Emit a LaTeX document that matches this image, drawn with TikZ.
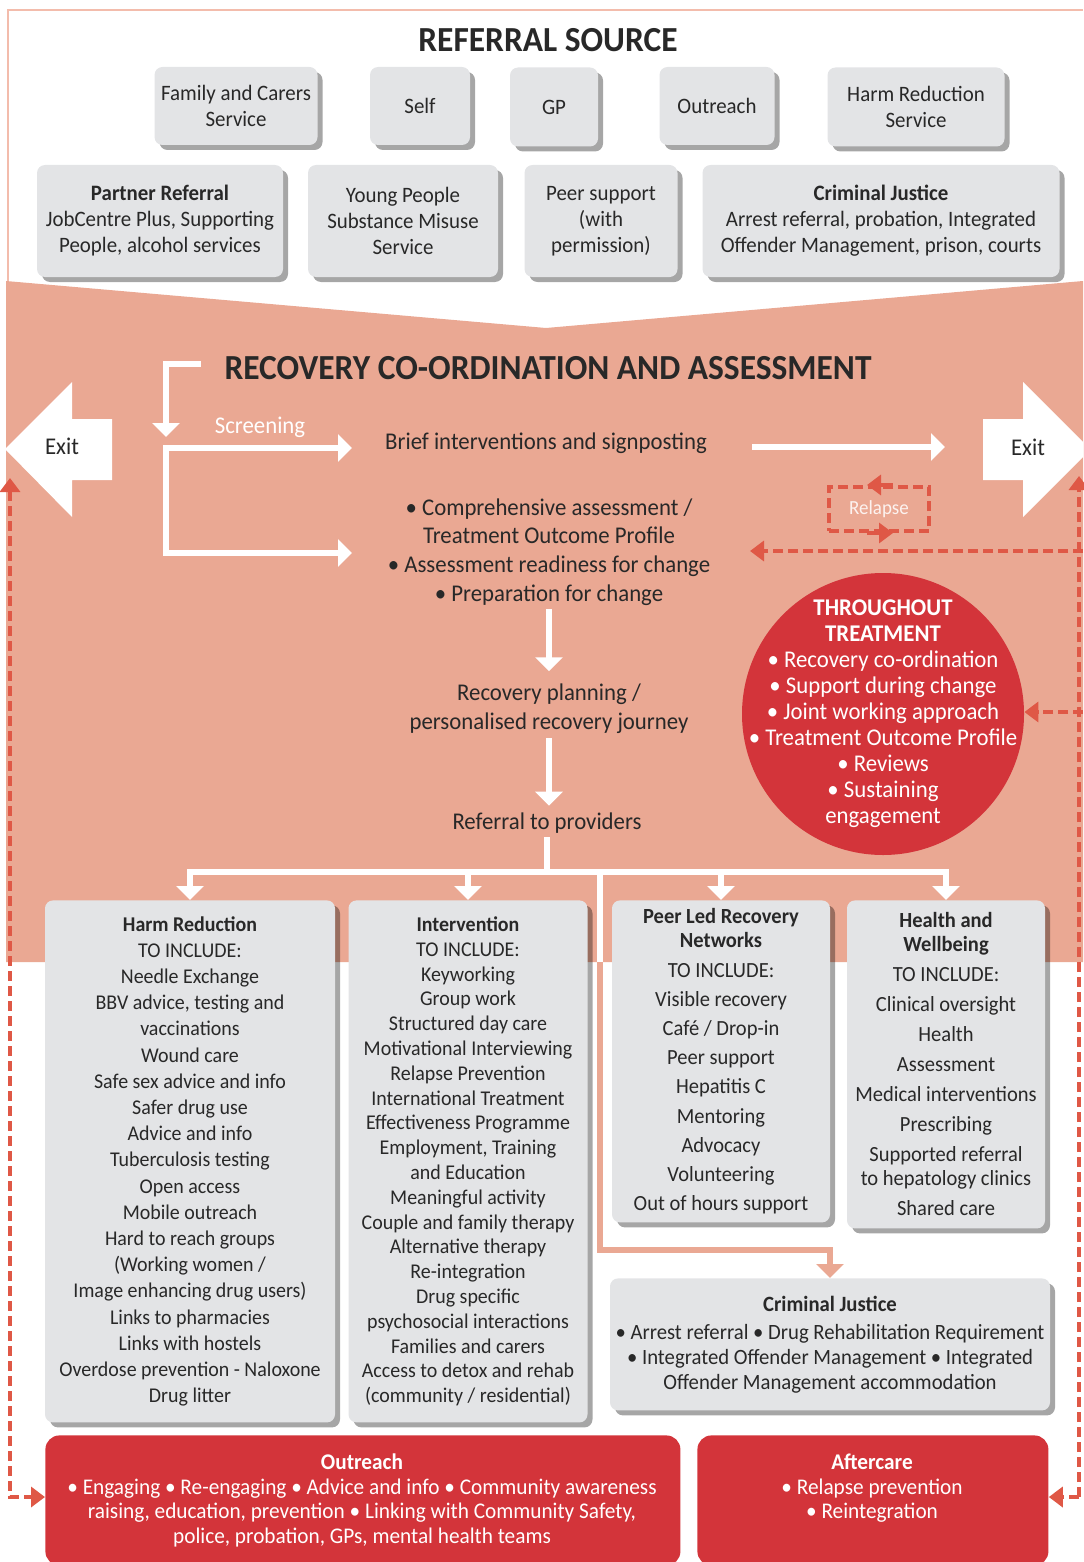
\documentclass[tikz,border=0pt]{standalone}
\usepackage{fontspec}
\setmainfont{Carlito}[FakeStretch=0.95]
\usetikzlibrary{positioning, calc, arrows.meta, shadows}
\definecolor{band}{RGB}{234,168,147}
\definecolor{boxgray}{RGB}{227,228,230}
\definecolor{redfill}{RGB}{211,52,58}
\definecolor{dashred}{RGB}{223,88,70}
\definecolor{ink}{RGB}{40,40,40}
\definecolor{framepink}{RGB}{243,188,172}

\tikzset{
  srcbox/.style={fill=boxgray, rounded corners=4pt, align=center, text=ink, inner sep=2pt,
    drop shadow={shadow xshift=2.5pt, shadow yshift=-2.5pt, opacity=0.35, fill=black},
    font=\fontsize{11}{13}\selectfont},
  provbox/.style={srcbox, anchor=north},
  redbox/.style={fill=redfill, rounded corners=7pt, anchor=north west},
  redtext/.style={text=white, align=center, anchor=north, font=\fontsize{11.2}{12.2}\selectfont},
  flowtext/.style={text=ink, align=center, font=\fontsize{12}{14.3}\selectfont},
  headtext/.style={text=ink, font=\bfseries\fontsize{17.6}{20}\selectfont},
  whiteline/.style={white, line width=3pt, line cap=rect},
  whitearrow/.style={whiteline, -{Triangle[width=13.5pt,length=7pt]}},
  bandarrow/.style={band, line width=3pt, -{Triangle[width=13.5pt,length=7pt]}},
  dashline/.style={dashred, line width=2pt, dash pattern=on 5pt off 2.5pt},
  dasharrow/.style={dashline, -{Triangle[width=10pt,length=7pt]}},
}

\begin{document}
\begin{tikzpicture}[x=0.5pt, y=-0.5pt]
  \useasboundingbox (0,0) rectangle (1083,1562);

  % frame round the referral sources, band behind the assessment part
  \draw[framepink, line width=1pt] (8,283) -- (8,10) -- (1083,10);
  \fill[band] (6,281) -- (546,328) -- (1083,281) -- (1083,962) -- (6,962) -- cycle;

  % Referral source
  \node[headtext] (srctitle) at (548,40) {REFERRAL SOURCE};
  \node[srcbox, minimum width=81.5pt, minimum height=39pt] (family) at (236,106) {Family and Carers\\Service};
  \node[srcbox, minimum width=50pt, minimum height=39pt] (self) at (420,106) {Self};
  \node[srcbox, minimum width=44pt, minimum height=39.5pt] (gp) at (554,107) {GP};
  \node[srcbox, minimum width=57.5pt, minimum height=39pt] (outsrc) at (717,106) {Outreach};
  \node[srcbox, minimum width=88.5pt, minimum height=39.5pt] (harmsrc) at (916,107) {Harm Reduction\\Service};
  \node[srcbox, minimum width=123pt, minimum height=56pt] (partner) at (160,221) {\textbf{Partner Referral}\\JobCentre Plus, Supporting\\People, alcohol services};
  \node[srcbox, minimum width=95pt, minimum height=56pt] (young) at (403,221) {Young People\\Substance Misuse\\Service};
  \node[srcbox, minimum width=76.5pt, minimum height=56pt] (peersrc) at (601,221) {Peer support\\(with\\permission)};
  \node[srcbox, minimum width=178.5pt, minimum height=56pt] (cjsrc) at (881,221) {\textbf{Criminal Justice}\\Arrest referral, probation, Integrated\\Offender Management, prison, courts};

  % Exit arrows
  \fill[white] (5,449) -- (72,382) -- (72,419) -- (112,419) -- (112,480) -- (72,480) -- (72,517) -- cycle;
  \fill[white] (983,419) -- (1023,419) -- (1023,382) -- (1083,442) -- (1083,457) -- (1023,517) -- (1023,480) -- (983,480) -- cycle;
  \node[flowtext] (exitL) at (62,446) {Exit};
  \node[flowtext] (exitR) at (1028,447) {Exit};

  % Recovery co-ordination and assessment
  \node[headtext] (rectitle) at (548,368) {RECOVERY CO-ORDINATION AND ASSESSMENT};
  \node[text=white, font=\fontsize{12}{13}\selectfont] (screen) at (260,427) {Screening};
  \node[flowtext] (brief) at (546,443) {Brief interventions and signposting};
  \node[flowtext] (assess) at (549,552) {• Comprehensive assessment /\\Treatment Outcome Profile\\• Assessment readiness for change\\• Preparation for change};
  \node[flowtext] (plan) at (549,709) {Recovery planning /\\personalised recovery journey};
  \node[flowtext] (referral) at (547,823) {Referral to providers};

  \coordinate (brkend) at (198,364);
  \coordinate (brkcorner) at (166,364);
  \coordinate (brkdown) at (166,437);
  \coordinate (splittop) at (166,448);
  \coordinate (splitbot) at (166,553);
  \coordinate (scrA) at (352,448);
  \coordinate (scrB) at (352,553);
  \coordinate (briefout) at (755,447);
  \coordinate (exitRin) at (945,447);
  \draw[whitearrow] (brkend) -- (brkcorner) -- (brkdown);
  \draw[whitearrow] (splitbot) -- (splittop) -- (scrA);
  \draw[whitearrow] (splitbot) -- (scrB);
  \draw[whitearrow] (briefout) -- (exitRin);
  \draw[whitearrow, shorten >=3pt] (assess.south) -- (plan.north);
  \draw[whitearrow] (plan.south) -- (plan.south |- referral.north);

  % Throughout treatment
  \node[circle, fill=redfill, minimum size=141pt, inner sep=0pt] (treat) at (883,714) {};
  \node[text=white, align=center, font=\fontsize{12}{13}\selectfont] (treattext) at (treat.center) {\textbf{THROUGHOUT}\\\textbf{TREATMENT}\\• Recovery co-ordination\\• Support during change\\• Joint working approach\\• Treatment Outcome Profile\\• Reviews\\• Sustaining\\engagement};

  % Relapse loop
  \node[dashline, draw, minimum width=50pt, minimum height=22pt, text=white!85!band, font=\fontsize{10}{12}\selectfont] (relapse) at (879,509) {Relapse};
  \draw[dashred, line width=2pt, -{Triangle[width=10pt,length=7pt]}] ([xshift=7pt]relapse.north) -- ([xshift=-6pt]relapse.north);
  \draw[dashred, line width=2pt, -{Triangle[width=10pt,length=7pt]}] ([xshift=-6pt]relapse.south) -- ([xshift=7pt]relapse.south);

  % Providers
  \node[provbox, minimum width=145pt, minimum height=261pt, font=\fontsize{10.5}{13.1}\selectfont] (harm) at (190,900) {\textbf{Harm Reduction}\\TO INCLUDE:\\Needle Exchange\\BBV advice, testing and\\vaccinations\\Wound care\\Safe sex advice and info\\Safer drug use\\Advice and info\\Tuberculosis testing\\Open access\\Mobile outreach\\Hard to reach groups\\(Working women /\\Image enhancing drug users)\\Links to pharmacies\\Links with hostels\\Overdose prevention - Naloxone\\Drug litter};
  \node[provbox, minimum width=119.5pt, minimum height=261pt, font=\fontsize{10.5}{12.4}\selectfont] (interv) at (468,900) {\textbf{Intervention}\\TO INCLUDE:\\Keyworking\\Group work\\Structured day care\\Motivational Interviewing\\Relapse Prevention\\International Treatment\\Effectiveness Programme\\Employment, Training\\and Education\\Meaningful activity\\Couple and family therapy\\Alternative therapy\\Re-integration\\Drug specific\\psychosocial interactions\\Families and carers\\Access to detox and rehab\\(community / residential)};
  \node[provbox, minimum width=109pt, minimum height=161pt, font=\fontsize{10.8}{14.6}\selectfont] (peer) at (721,900) {\textbf{Peer Led Recovery}\\[-2.6pt]\textbf{Networks}\\TO INCLUDE:\\Visible recovery\\Café / Drop-in\\Peer support\\Hepatitis C\\Mentoring\\Advocacy\\Volunteering\\Out of hours support};
  \node[provbox, minimum width=99pt, minimum height=164pt, font=\fontsize{10.8}{15}\selectfont] (health) at (946,900) {\textbf{Health and}\\[-3pt]\textbf{Wellbeing}\\TO INCLUDE:\\Clinical oversight\\Health\\Assessment\\Medical interventions\\Prescribing\\Supported referral\\[-3pt]to hepatology clinics\\Shared care};
  \node[provbox, minimum width=220pt, minimum height=66pt, font=\fontsize{10.9}{12.4}\selectfont] (cj) at (830,1278) {\textbf{Criminal Justice}\\[2pt]• Arrest referral • Drug Rehabilitation Requirement\\• Integrated Offender Management • Integrated\\Offender Management accommodation};

  % Referral to providers
  \coordinate (fork) at (547,872);
  \coordinate (forkL) at (190,872);
  \coordinate (forkR) at (946,872);
  \draw[whiteline] (referral.south) -- (fork);
  \draw[whiteline] (forkL) -- (forkR);
  \draw[whitearrow, line cap=butt] (harm.north |- fork) -- (harm.north);
  \draw[whitearrow, line cap=butt] (interv.north |- fork) -- (interv.north);
  \draw[whitearrow, line cap=butt] (peer.north |- fork) -- (peer.north);
  \draw[whitearrow, line cap=butt] (health.north |- fork) -- (health.north);

  \coordinate (cjdrop) at (600,872);
  \coordinate (bandedge) at (600,962);
  \coordinate (cjturn) at (600,1250);
  \draw[bandarrow] (cjdrop) -- (cjturn) -- (cjturn -| cj.north) -- (cj.north);
  \draw[whiteline, line cap=butt] (cjdrop) -- (bandedge);

  % Outreach and aftercare
  \node[redbox, minimum width=317.5pt, minimum height=65pt] (outreach) at (45,1435) {};
  \node[redtext] (outreachtext) at (362,1447) {\textbf{Outreach}\\• Engaging • Re-engaging • Advice and info • Community awareness\\raising, education, prevention • Linking with Community Safety,\\police, probation, GPs, mental health teams};
  \node[redbox, minimum width=175.5pt, minimum height=65pt] (after) at (697,1435) {};
  \node[redtext] (aftertext) at (872,1447) {\textbf{Aftercare}\\• Relapse prevention\\• Reintegration};

  % Dashed return routes
  \coordinate (ltop) at (10,478);
  \coordinate (lbot) at (10,1497);
  \coordinate (rtop) at (1079,476);
  \coordinate (rbot) at (1079,1497);
  \coordinate (redgeA) at (1083,551);
  \coordinate (relin) at (750,551);
  \coordinate (redgeB) at (1083,712);
  \draw[dashline, {Triangle[width=10pt,length=7pt]}-{Triangle[width=10pt,length=7pt]}] (ltop) -- (lbot) -- (outreach.west |- lbot);
  \draw[dasharrow] (rbot) -- (rtop);
  \draw[dasharrow] (rbot) -- (after.east |- rbot);
  \draw[dasharrow] (redgeA) -- (relin);
  \draw[dasharrow] (redgeB) -- (treat.east |- redgeB);
\end{tikzpicture}
\end{document}
